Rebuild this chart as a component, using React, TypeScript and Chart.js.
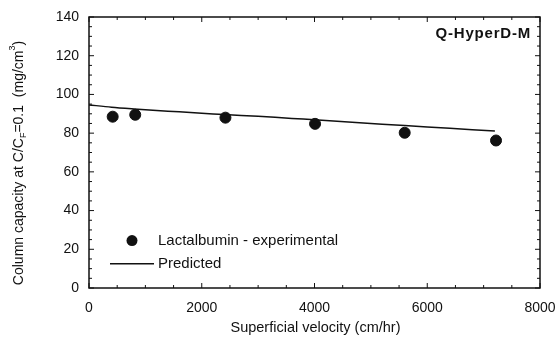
import React, { useEffect, useRef } from "react";
import { Chart, registerables } from "chart.js";
Chart.register(...registerables);

const expVelocity = [420, 820, 2420, 4010, 5600, 7220];
const expCapacity = [88.5, 89.5, 88, 84.8, 80.2, 76.2];
const predVelocity = [0, 400, 800, 1200, 1600, 2000, 2400, 3000, 3600, 4000, 4800, 5600, 6400, 7200];
const predCapacity = [94.6, 93.4, 92.5, 91.7, 91, 90.3, 89.6, 88.7, 87.6, 86.9, 85.4, 83.9, 82.5, 81.1];
const xTicks = [0, 2000, 4000, 6000, 8000];
const yTicks = [0, 20, 40, 60, 80, 100, 120, 140];
const chartTitle = "Q-HyperD-M";
const legendLabels = ["Lactalbumin - experimental", "Predicted"];
const xTitle = "Superficial velocity (cm/hr)";

const FONT = "Liberation Sans, Arial, sans-serif";
const INK = "#111";

const framePlugin = {
  id: "frame",
  afterDraw(chart: any) {
    const ctx = chart.ctx;
    const { left, right, top, bottom } = chart.chartArea;
    const xs = chart.scales.x;
    const ys = chart.scales.y;
    ctx.save();
    ctx.strokeStyle = INK;
    ctx.lineWidth = 1.5;
    ctx.strokeRect(left, top, right - left, bottom - top);
    ctx.lineWidth = 1;
    for (let v = 0; v <= 8000; v += 500) {
      const px = xs.getPixelForValue(v);
      const len = v % 2000 === 0 ? 5 : 3;
      ctx.beginPath();
      ctx.moveTo(px, bottom);
      ctx.lineTo(px, bottom - len);
      ctx.moveTo(px, top);
      ctx.lineTo(px, top + len);
      ctx.stroke();
    }
    for (let v = 0; v <= 140; v += 5) {
      const py = ys.getPixelForValue(v);
      const len = v % 20 === 0 ? 5 : 3;
      ctx.beginPath();
      ctx.moveTo(left, py);
      ctx.lineTo(left + len, py);
      ctx.moveTo(right, py);
      ctx.lineTo(right - len, py);
      ctx.stroke();
    }
    // title
    ctx.fillStyle = INK;
    ctx.font = "bold 15px " + FONT;
    ctx.letterSpacing = "0.8px";
    ctx.textAlign = "right";
    ctx.textBaseline = "middle";
    ctx.fillText(chartTitle, right - 9, top + 17);
    ctx.letterSpacing = "0px";
    // legend
    ctx.font = "15px " + FONT;
    ctx.textAlign = "left";
    const lx = xs.getPixelForValue(0);
    ctx.beginPath();
    ctx.arc(lx + 43, ys.getPixelForValue(24.5), 5.5, 0, Math.PI * 2);
    ctx.fill();
    ctx.fillText(legendLabels[0], lx + 69, ys.getPixelForValue(24.5));
    ctx.lineWidth = 1.5;
    ctx.beginPath();
    ctx.moveTo(lx + 21, ys.getPixelForValue(12.5));
    ctx.lineTo(lx + 65, ys.getPixelForValue(12.5));
    ctx.stroke();
    ctx.fillText(legendLabels[1], lx + 69, ys.getPixelForValue(12.5));
    // x title
    ctx.font = "14.5px " + FONT;
    ctx.textAlign = "center";
    ctx.fillText(xTitle, (left + right) / 2 + 1, 328);
    // y title with sub/superscript
    ctx.translate(19, 163);
    ctx.rotate(-Math.PI / 2);
    const parts: [string, string][] = [
      ["Column capacity at C/C", "n"],
      ["F", "sub"],
      ["=0.1  (mg/cm", "n"],
      ["3", "sup"],
      [")", "n"],
    ];
    const normal = "14px " + FONT;
    const small = "9px " + FONT;
    let total = 0;
    for (const [t, k] of parts) {
      ctx.font = k === "n" ? normal : small;
      total += ctx.measureText(t).width;
    }
    let x = -total / 2;
    ctx.textAlign = "left";
    for (const [t, k] of parts) {
      ctx.font = k === "n" ? normal : small;
      const dy = k === "sub" ? 5 : k === "sup" ? -6 : 0;
      ctx.fillText(t, x, dy);
      x += ctx.measureText(t).width;
    }
    ctx.restore();
  },
};

export default function App() {
  const ref = useRef<HTMLCanvasElement>(null);
  useEffect(() => {
    const chart = new Chart(ref.current!, {
      type: "scatter",
      data: {
        datasets: [
          {
            label: legendLabels[0],
            data: expVelocity.map((x, i) => ({ x, y: expCapacity[i] })),
            backgroundColor: INK,
            borderColor: INK,
            pointRadius: 5.5,
            showLine: false,
          },
          {
            label: legendLabels[1],
            data: predVelocity.map((x, i) => ({ x, y: predCapacity[i] })),
            borderColor: INK,
            borderWidth: 1.5,
            pointRadius: 0,
            showLine: true,
            tension: 0.3,
          },
        ],
      },
      options: {
        animation: false,
        responsive: false,
        layout: { padding: { top: 17, right: 19, left: 0, bottom: 0 } },
        plugins: { legend: { display: false }, tooltip: { enabled: false } },
        scales: {
          x: {
            type: "linear",
            min: 0,
            max: 8000,
            afterBuildTicks: (s: any) => {
              s.ticks = xTicks.map((v) => ({ value: v }));
            },
            afterFit: (s: any) => {
              s.height = 49;
              s.paddingLeft = 0;
              s.paddingRight = 0;
            },
            grid: { display: false, drawTicks: false },
            border: { display: false },
            ticks: {
              color: INK,
              font: { size: 14, family: FONT },
              padding: 12,
              maxRotation: 0,
              callback: (v: any) => String(v),
            },
          },
          y: {
            type: "linear",
            min: 0,
            max: 140,
            afterBuildTicks: (s: any) => {
              s.ticks = yTicks.map((v) => ({ value: v }));
            },
            afterFit: (s: any) => {
              s.width = 89;
              s.paddingTop = 0;
              s.paddingBottom = 0;
            },
            grid: { display: false, drawTicks: false },
            border: { display: false },
            ticks: { color: INK, font: { size: 14, family: FONT }, padding: 10 },
          },
        },
      },
      plugins: [framePlugin],
    });
    return () => chart.destroy();
  }, []);
  return (
    <div style={{ position: "fixed", left: 0, top: 0, width: 559, height: 337, background: "#fff" }}>
      <canvas ref={ref} width={559} height={337} style={{ width: 559, height: 337 }} />
    </div>
  );
}
